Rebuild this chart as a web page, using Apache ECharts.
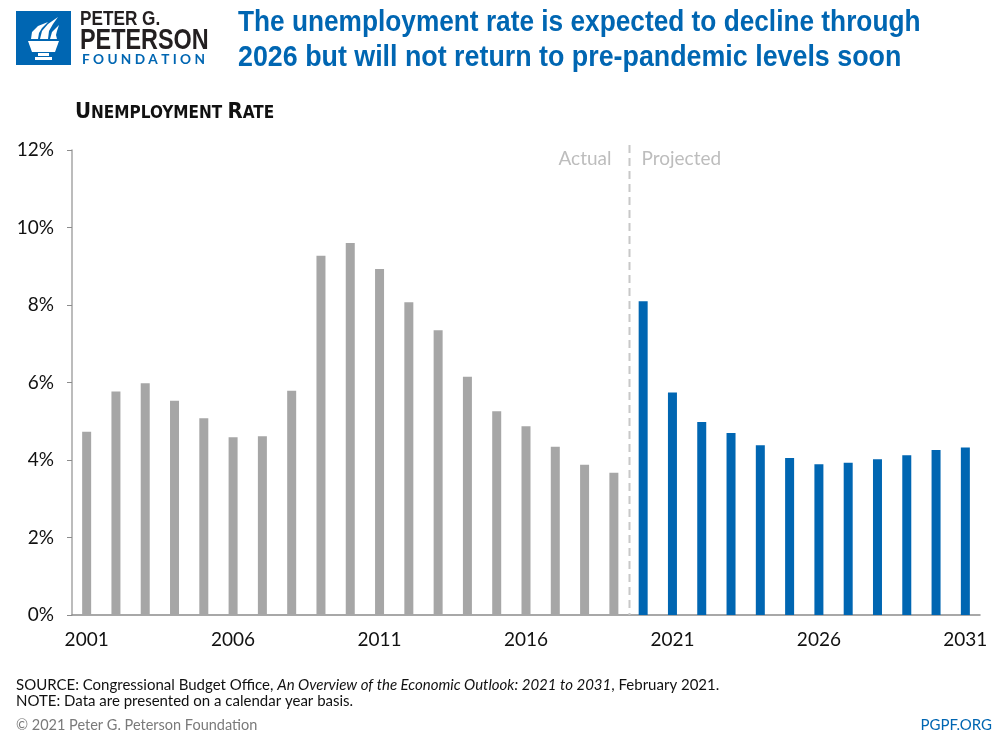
<!DOCTYPE html>
<html>
<head>
<meta charset="utf-8">
<script src="https://cdn.jsdelivr.net/npm/echarts@6/dist/echarts.min.js"></script>
<style>
html,body{margin:0;padding:0;background:#fff;}
#chart{width:1000px;height:737px;}
</style>
</head>
<body>
<div id="chart"></div>
<script>
var years = ['2001','2002','2003','2004','2005','2006','2007','2008','2009','2010','2011','2012','2013','2014','2015','2016','2017','2018','2019','2020','2021','2022','2023','2024','2025','2026','2027','2028','2029','2030','2031'];
var actualYears = ['2001','2002','2003','2004','2005','2006','2007','2008','2009','2010','2011','2012','2013','2014','2015','2016','2017','2018','2019'];
var actualRate = [4.73,5.77,5.98,5.53,5.08,4.59,4.61,5.79,9.27,9.6,8.93,8.07,7.35,6.15,5.26,4.87,4.34,3.88,3.67];
var projectedYears = ['2020','2021','2022','2023','2024','2025','2026','2027','2028','2029','2030','2031'];
var projectedRate = [8.1,5.74,4.98,4.70,4.38,4.05,3.89,3.93,4.02,4.12,4.26,4.32];
var yTicks = [0,2,4,6,8,10,12];

var actualMap = {}, projMap = {};
actualYears.forEach(function(y,i){actualMap[y]=actualRate[i];});
projectedYears.forEach(function(y,i){projMap[y]=projectedRate[i];});
var actualData = years.map(function(y){return actualMap[y]!==undefined?actualMap[y]:null;});
var projData = years.map(function(y){return projMap[y]!==undefined?projMap[y]:null;});

var chart = echarts.init(document.getElementById('chart'), null, {renderer:'canvas'});
var head = '"Liberation Sans",Arial,sans-serif';
var dvc = '"DejaVu Sans Condensed","DejaVu Sans",sans-serif';
var body = 'Lato,"Noto Sans",sans-serif';

var option = {
  backgroundColor:'#fff',
  animation:false,
  grid:{left:72,right:20,top:150,bottom:122,containLabel:false},
  xAxis:{
    type:'category',
    data:years,
    axisLine:{show:true,lineStyle:{color:'#8c8c8c',width:1.5}},
    axisTick:{show:false},
    axisLabel:{interval:4,color:'#111',fontSize:19,fontFamily:body,margin:15}
  },
  yAxis:{
    type:'value',min:yTicks[0],max:yTicks[yTicks.length-1],interval:2,
    axisLine:{show:true,lineStyle:{color:'#a6a6a6',width:1.5}},
    axisTick:{show:true,length:5,lineStyle:{color:'#8c8c8c',width:1}},
    splitLine:{show:false},
    axisLabel:{formatter:'{value}%',color:'#111',fontSize:19,fontFamily:body,margin:18}
  },
  series:[
    {type:'bar',name:'Actual',data:actualData,barWidth:9,barGap:'-100%',
     itemStyle:{color:'#a6a6a6'}},
    {type:'bar',name:'Projected',data:projData,barWidth:9,barGap:'-100%',
     itemStyle:{color:'#0066b2'}}
  ]
};
chart.setOption(option);

var x18 = chart.convertToPixel({xAxisIndex:0}, actualYears[actualYears.length-1]);
var x19 = chart.convertToPixel({xAxisIndex:0}, projectedYears[0]);
var divX = Math.round((x18+x19)/2)+0.5;
var yTop = chart.convertToPixel({yAxisIndex:0}, 12) - 5;
var yBot = chart.convertToPixel({yAxisIndex:0}, 0);

chart.setOption({graphic:[
  {type:'line',shape:{x1:divX,y1:yTop,x2:divX,y2:yBot},style:{stroke:'#c8c8c8',lineWidth:2,lineDash:[8,5]},z:10},
  {type:'text',x:divX-18,y:159,style:{text:'Actual',fill:'#bdbdbd',font:'19px '+body,textAlign:'right',textVerticalAlign:'middle'}},
  {type:'text',x:divX+12,y:159,style:{text:'Projected',fill:'#bdbdbd',font:'19px '+body,textAlign:'left',textVerticalAlign:'middle'}},
  // title
  {type:'text',x:238,y:23,scaleX:0.905,style:{text:'The unemployment rate is expected to decline through',fill:'#0066b2',font:'bold 29px '+head,textVerticalAlign:'middle'}},
  {type:'text',x:238,y:58,scaleX:0.925,style:{text:'2026 but will not return to pre-pandemic levels soon',fill:'#0066b2',font:'bold 29px '+head,textVerticalAlign:'middle'}},
  // subtitle small caps
  {type:'text',x:75,y:112,style:{
    text:'{b|U}{s|NEMPLOYMENT }{b|R}{s|ATE}',
    textVerticalAlign:'middle',
    rich:{b:{fontFamily:dvc,fontWeight:'bold',fontSize:22,fill:'#111',color:'#111'},
          s:{fontFamily:dvc,fontWeight:'bold',fontSize:17,fill:'#111',color:'#111',padding:[3,0,0,0]}}
  }},
  // logo
  {type:'rect',shape:{x:16,y:11,width:55,height:54},style:{fill:'#0066b2'}},
  {type:'polygon',shape:{points:[[28,41],[59,41],[55,52],[32,52]]},style:{fill:'#fff'}},
  {type:'rect',shape:{x:38,y:53,width:11,height:3},style:{fill:'#fff'}},
  {type:'rect',shape:{x:35,y:57,width:17,height:3},style:{fill:'#fff'}},
  {type:'polygon',shape:{points:[[31,39],[32,32],[38,26],[48,22],[42,28],[39,33],[38,39]]},style:{fill:'#fff'}},
  {type:'polygon',shape:{points:[[40,39],[42,31],[48,24],[58,17],[53,24],[49,31],[48,39]]},style:{fill:'#fff'}},
  {type:'polygon',shape:{points:[[50,39],[52,32],[59,25],[57,31],[56,35],[57,39]]},style:{fill:'#fff'}},
  {type:'text',x:80,y:19,scaleX:0.86,style:{text:'PETER G.',fill:'#231f20',font:'bold 20px '+head,textVerticalAlign:'middle'}},
  {type:'text',x:80,y:41,scaleX:0.78,style:{text:'PETERSON',fill:'#231f20',font:'bold 30px '+head,textVerticalAlign:'middle'}},
  {type:'text',x:82,y:60,scaleX:1.05,style:{text:'F O U N D A T I O N',fill:'#0066b2',font:'bold 13px '+body,textVerticalAlign:'middle'}},
  // footer
  {type:'text',x:16,y:685,style:{
    text:'{n|SOURCE: Congressional Budget Office, }{i|An Overview of the Economic Outlook: 2021 to 2031}{n|, February 2021.}',
    textVerticalAlign:'middle',
    rich:{n:{fontFamily:body,fontSize:15,fill:'#111',color:'#111'},i:{fontFamily:body,fontSize:15,fontStyle:'italic',fill:'#111',color:'#111'}}
  }},
  {type:'text',x:16,y:701,style:{text:'NOTE: Data are presented on a calendar year basis.',fill:'#111',font:'15px '+body,textVerticalAlign:'middle'}},
  {type:'text',x:16,y:725,style:{text:'\u00a9 2021 Peter G. Peterson Foundation',fill:'#7a7a7a',font:'14.5px '+body,textVerticalAlign:'middle'}},
  {type:'text',x:992,y:725,style:{text:'PGPF.ORG',fill:'#0066b2',font:'15px '+body,textAlign:'right',textVerticalAlign:'middle'}}
]});
</script>
</body>
</html>
